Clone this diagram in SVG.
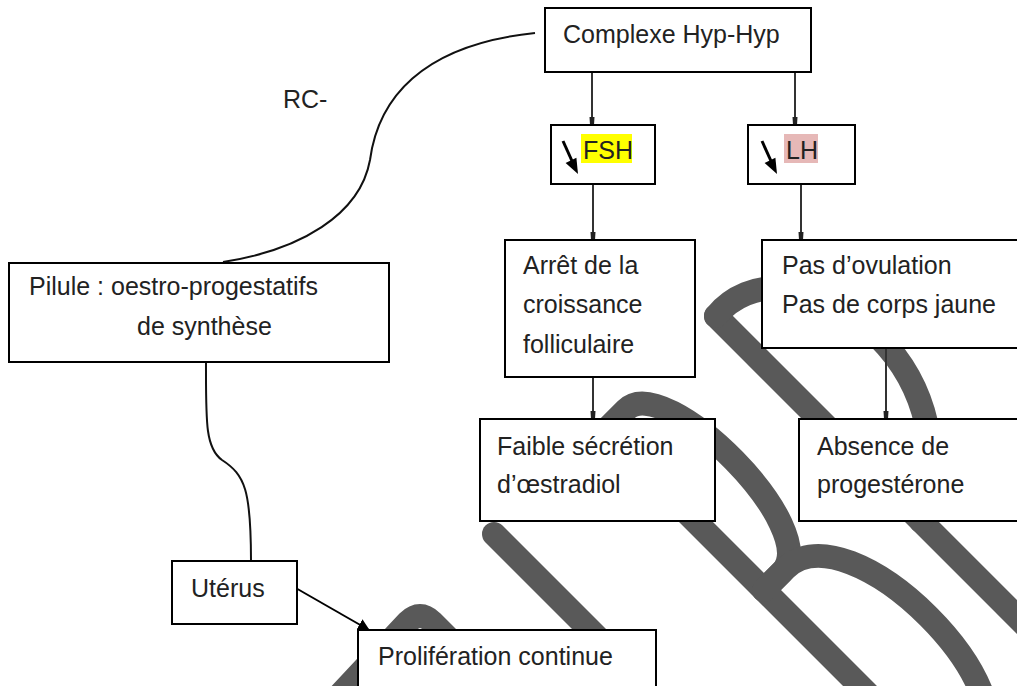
<svg xmlns="http://www.w3.org/2000/svg" width="1017" height="686" viewBox="0 0 1017 686">
<defs>
<style>
.box{fill:#fff;stroke:#000;stroke-width:2}
.t{font-family:"Liberation Sans",Arial,sans-serif;font-size:25px;fill:#222}
.wm{fill:none;stroke:#595959;stroke-width:24;stroke-linecap:round;stroke-linejoin:round}
.conn{fill:none;stroke:#333;stroke-width:2}
.curve{fill:none;stroke:#111;stroke-width:2}
.icon{stroke:#000;stroke-width:3;fill:none}
</style>
<marker id="tick" markerUnits="userSpaceOnUse" markerWidth="8" markerHeight="8" viewBox="0 0 8 8" refX="8" refY="4" orient="auto"><path d="M0,1.5 L8,2 L8,6 L0,6.5 z" fill="#222"/></marker>
<marker id="head" markerUnits="userSpaceOnUse" markerWidth="12" markerHeight="12" viewBox="0 0 12 12" refX="11" refY="6" orient="auto"><path d="M0,0 L12,6 L0,12 z" fill="#000"/></marker>
</defs>
<rect width="1017" height="686" fill="#fff"/>
<g id="watermark" class="wm">
<path d="M494,534 L625,665"/>
<path d="M335,700 L408,622 Q420,610 432,622 L470,660"/>
<g transform="translate(764,590) rotate(-45)">
<path d="M0,-225 V320"/>
<path d="M0,-225 H30 C85,-225 85,0 25,0 H0"/>
<path d="M0,0 H30 C120,0 120,270 30,270 H0"/>
</g>
<g transform="translate(716,316) rotate(-45)">
<path d="M0,0 V480"/>
<path d="M0,0 C50,-5 100,40 100,130 C100,200 60,260 0,290"/>
</g>
</g>
<g id="connectors">
<path class="curve" d="M223,262 C300,250 360,215 370,160 C378,100 420,45 535,33"/>
<path class="curve" d="M206,362 C206,420 205,448 222,460 C245,475 251,490 251,561"/>
<line class="conn" x1="592" y1="72" x2="592" y2="125" marker-end="url(#tick)"/>
<line class="conn" x1="795" y1="72" x2="795" y2="125" marker-end="url(#tick)"/>
<line class="conn" x1="593" y1="184" x2="593" y2="240" marker-end="url(#tick)"/>
<line class="conn" x1="801" y1="184" x2="801" y2="240" marker-end="url(#tick)"/>
<line class="conn" x1="593" y1="377" x2="593" y2="419" marker-end="url(#tick)"/>
<line class="conn" x1="886" y1="348" x2="886" y2="419" marker-end="url(#tick)"/>
<line x1="294" y1="587" x2="369" y2="630" stroke="#000" stroke-width="2" marker-end="url(#head)"/>
<text class="t" x="283" y="108">RC-</text>
</g>
<g id="n-complexe">
<rect class="box" x="545" y="8" width="266" height="64"/>
<text class="t" x="563" y="43">Complexe Hyp-Hyp</text>
</g>
<g id="n-fsh">
<rect class="box" x="551" y="125" width="104" height="59"/>
<line class="icon" x1="563" y1="141" x2="572" y2="161"/>
<polygon points="565.6,163 576.4,157.8 578,174" fill="#000"/>
<rect x="581" y="134" width="51" height="29" fill="#ffff00"/>
<text class="t" x="583" y="159">FSH</text>
</g>
<g id="n-lh">
<rect class="box" x="748" y="125" width="107" height="59"/>
<line class="icon" x1="762" y1="141" x2="771" y2="161"/>
<polygon points="764.6,163 775.4,157.8 777,174" fill="#000"/>
<rect x="784" y="134" width="34" height="29" fill="#e6b8b7"/>
<text class="t" x="786" y="159">LH</text>
</g>
<g id="n-arret">
<rect class="box" x="505" y="240" width="190" height="137"/>
<text class="t" x="523" y="274">Arrêt de la</text>
<text class="t" x="523" y="313">croissance</text>
<text class="t" x="523" y="353">folliculaire</text>
</g>
<g id="n-pas">
<rect class="box" x="762" y="240" width="270" height="108"/>
<text class="t" x="782" y="274">Pas d’ovulation</text>
<text class="t" x="782" y="313">Pas de corps jaune</text>
</g>
<g id="n-faible">
<rect class="box" x="480" y="419" width="235" height="102"/>
<text class="t" x="497" y="455">Faible sécrétion</text>
<text class="t" x="497" y="493">d’œstradiol</text>
</g>
<g id="n-absence">
<rect class="box" x="799" y="419" width="230" height="102"/>
<text class="t" x="817" y="455">Absence de</text>
<text class="t" x="817" y="493">progestérone</text>
</g>
<g id="n-pilule">
<rect class="box" x="9" y="263" width="380" height="99"/>
<text class="t" x="29" y="295">Pilule : oestro-progestatifs</text>
<text class="t" x="137" y="335">de synthèse</text>
</g>
<g id="n-uterus">
<rect class="box" x="172" y="561" width="125" height="63"/>
<text class="t" x="191" y="597">Utérus</text>
</g>
<g id="n-prolif">
<rect class="box" x="358" y="630" width="298" height="70"/>
<text class="t" x="378" y="665">Prolifération continue</text>
</g>
</svg>
